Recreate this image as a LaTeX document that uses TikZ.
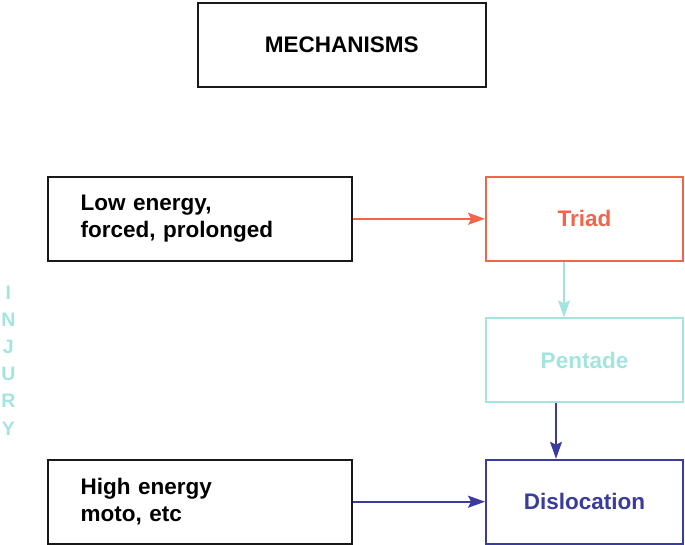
\documentclass[tikz,border=0pt]{standalone}
\usepackage{fontspec}
\setmainfont{Liberation Sans}
\usetikzlibrary{arrows.meta}
\definecolor{cOrange}{HTML}{F0664A}
\definecolor{cCyan}{HTML}{A4E4DF}
\definecolor{cBlue}{HTML}{393C9C}
\tikzset{
  box/.style={draw, line width=1.9pt, minimum height=84pt, inner sep=0pt,
    font=\fontsize{22.5}{26.7}\selectfont\bfseries},
  leftbox/.style={box, draw=black!90, minimum width=304pt, text width=238pt, align=left, inner xsep=33pt},
  rightbox/.style={box, minimum width=197pt},
  conn/.style={line width=1.7pt, -{Stealth[length=17pt,width=12pt,inset=3pt]}},
  letter/.style={text=cCyan, font=\fontsize{19.5}{19.5}\selectfont\bfseries, inner sep=0pt}
}
\begin{document}
\begin{tikzpicture}[x=1pt,y=-1pt]
\useasboundingbox (0,0) rectangle (685,545);
\node[box, draw=black!90, minimum width=288pt] (mech) at (341.7,44.7) {MECHANISMS};
\node[leftbox] (low) at (199.7,218.8) {Low energy,\\forced, prolonged};
\node[leftbox] (high) at (199.7,501.7) {High energy\\moto, etc};
\node[rightbox, draw=cOrange, text=cOrange] (triad) at (584.5,218.8) {Triad};
\node[rightbox, draw=cCyan, text=cCyan] (pent) at (584.5,360.3) {Pentade};
\node[rightbox, draw=cBlue, text=cBlue] (disl) at (584.5,501.7) {Dislocation};
\draw[conn, cOrange] (low.east) -- (triad.west);
\draw[conn, cCyan] ([xshift=-20.5pt]triad.south) -- ([xshift=-20.5pt]pent.north);
\draw[conn, cBlue] ([xshift=-28.5pt]pent.south) -- ([xshift=-28.5pt]disl.north);
\draw[conn, cBlue] (high.east) -- (disl.west);
\node[letter] (l1) at (8.3,292.7) {I};
\node[letter] (l2) at (8.3,319.8) {N};
\node[letter] (l3) at (8.3,346.9) {J};
\node[letter] (l4) at (8.3,374.0) {U};
\node[letter] (l5) at (8.3,401.1) {R};
\node[letter] (l6) at (8.3,428.3) {Y};
\end{tikzpicture}
\end{document}
